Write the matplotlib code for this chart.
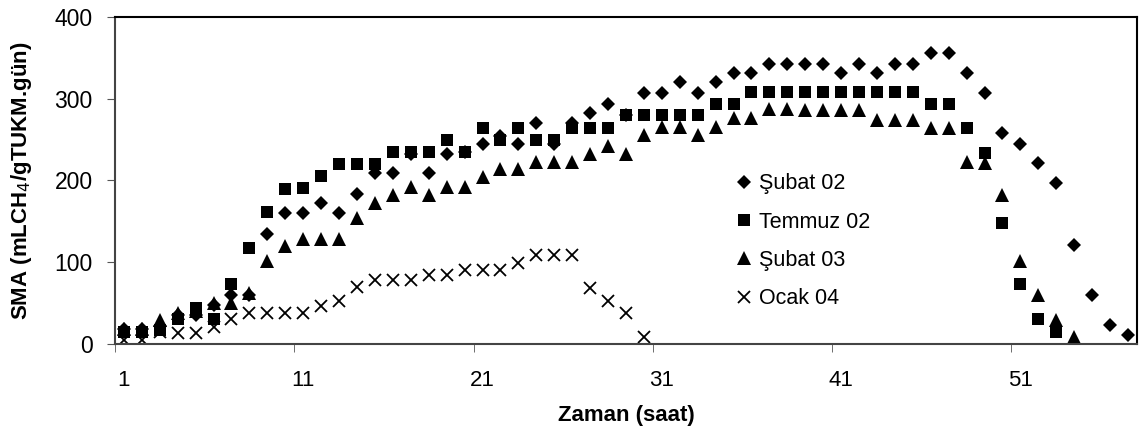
import numpy as np
import matplotlib
matplotlib.use("Agg")
import matplotlib.pyplot as plt

plt.rcParams['font.family'] = ['Liberation Sans', 'DejaVu Sans']

# Veriler
subat02 = [18, 18, 22, 35, 35, 48, 60, 60, 134, 160, 160, 172, 160, 184, 209,
           209, 233, 209, 233, 235, 245, 255, 245, 270, 245, 270, 283, 294, 280, 307,
           307, 320, 307, 320, 332, 332, 343, 343, 343, 343, 332, 343, 332, 343, 343,
           356, 356, 331, 307, 258, 245, 221, 197, 121, 60, 23, 11]
temmuz02 = [15, 15, 17, 31, 44, 30, 74, 118, 161, 190, 191, 205, 220, 220, 220,
            235, 235, 235, 250, 235, 264, 250, 264, 250, 250, 264, 264, 264, 280, 280,
            280, 280, 280, 294, 294, 308, 308, 308, 308, 308, 308, 308, 308, 308, 308,
            294, 294, 264, 234, 148, 73, 30, 15]
subat03 = [18, 18, 29, 38, 40, 50, 50, 62, 102, 120, 129, 129, 129, 154, 172,
           182, 192, 182, 192, 192, 204, 214, 214, 223, 223, 223, 233, 242, 233, 256,
           265, 265, 256, 265, 276, 276, 287, 287, 286, 286, 286, 286, 274, 274, 274,
           264, 264, 223, 222, 182, 102, 60, 29, 8]
ocak04 = [5, 5, 15, 14, 14, 21, 31, 38, 38, 38, 38, 46, 53, 70, 78,
          78, 78, 84, 84, 90, 90, 90, 99, 109, 109, 109, 69, 53, 38, 9]

series = [
    ('Şubat 02', subat02, 'D', 7),
    ('Temmuz 02', temmuz02, 's', 8),
    ('Şubat 03', subat03, '^', 9.5),
    ('Ocak 04', ocak04, 'x', 9),
]

fig = plt.figure(figsize=(11.46, 4.46), dpi=100)
ax = fig.add_axes([0.1003, 0.2287, 0.8918, 0.7332])

for name, vals, mk, ms in series:
    x = np.arange(1, len(vals) + 1)
    if mk == 'x':
        ax.plot(x, vals, linestyle='none', marker=mk, markersize=ms,
                color='black', markeredgewidth=1.3, label=name)
    else:
        ax.plot(x, vals, linestyle='none', marker=mk, markersize=ms,
                color='black', markeredgewidth=0, label=name)

ax.set_xlim(0.5, 57.5)
ax.set_ylim(0, 400)
ax.set_yticks([0, 100, 200, 300, 400])

# kategori ekseni: çizgiler kategoriler arasında, etiketler ortada
ax.set_xticks(np.arange(1, 52, 10))
ax.set_xticklabels([str(v) for v in range(1, 52, 10)])
ax.set_xticks(np.arange(0.5, 58, 10), minor=True)
ax.tick_params(axis='x', which='major', length=0, pad=19, labelsize=16)
ax.tick_params(axis='x', which='minor', length=6, direction='out', color='#555555')
ax.tick_params(axis='y', length=6, direction='out', color='#555555', pad=10, labelsize=16.5)

for side in ['top', 'right']:
    ax.spines[side].set_linewidth(1.5)
    ax.spines[side].set_color('black')
for side in ['left', 'bottom']:
    ax.spines[side].set_linewidth(1.5)
    ax.spines[side].set_color('#444444')

ax.set_xlabel('Zaman (saat)', fontweight='bold', fontsize=16, labelpad=10)
ax.set_ylabel('SMA (mLCH$_4$/gTUKM.gün)', fontweight='bold', fontsize=16, labelpad=15)

ax.legend(loc='upper left', bbox_to_anchor=(0.599, 0.548), frameon=False,
          fontsize=15.5, handletextpad=0.28, labelspacing=0.8, handlelength=0.8,
          borderaxespad=0)

fig.savefig('out.png', dpi=100)
